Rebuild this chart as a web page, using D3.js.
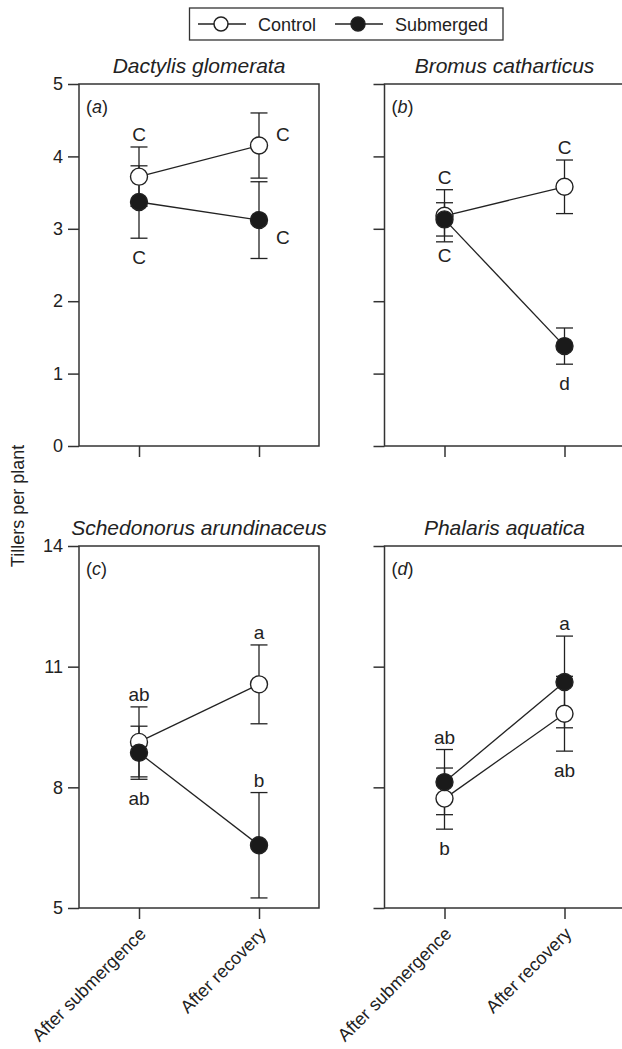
<!DOCTYPE html>
<html>
<head>
<meta charset="utf-8">
<script src="https://cdn.jsdelivr.net/npm/d3@7"></script>
<style>
body { margin: 0; background: #fff; }
text { font-family: "Liberation Sans", Arial, Helvetica, sans-serif; fill: #222; }
</style>
</head>
<body>
<script>
const w = 622;
const h = 1049;

// data
const categories = ["After submergence", "After recovery"];
const species = ["Dactylis glomerata", "Bromus catharticus", "Schedonorus arundinaceus", "Phalaris aquatica"];
const panelTags = ["a", "b", "c", "d"];

const controlMean = [[3.72, 4.15], [3.18, 3.58], [9.13, 10.56], [7.72, 9.83]];
const controlSE = [[0.41, 0.45], [0.36, 0.37], [0.87, 0.98], [0.76, 0.93]];
const submergedMean = [[3.37, 3.12], [3.13, 1.38], [8.86, 6.56], [8.13, 10.62]];
const submergedSE = [[0.50, 0.53], [0.23, 0.25], [0.66, 1.31], [0.81, 1.14]];

const controlLetters = [["C", "C"], ["C", "C"], ["ab", "a"], ["b", "ab"]];
const submergedLetters = [["C", "C"], ["C", "d"], ["ab", "b"], ["ab", "a"]];
const controlSide = [["above", "rightUp"], ["above", "above"], ["above", "above"], ["below", "below"]];
const submergedSide = [["below", "rightDown"], ["below", "below"], ["below", "above"], ["above", "above"]];

const yDomains = [[0, 5], [5, 14]];
const yTicks = [[0, 1, 2, 3, 4, 5], [5, 8, 11, 14]];

// layout
const colX = [79, 384.5];
const rowY = [84, 546];
const pw = 240;
const ph = 362;
const r = 8.5;
const cap = 8.5;

const series = [
    {name: "Control", mean: controlMean, se: controlSE, letters: controlLetters, side: controlSide, fill: "#fff"},
    {name: "Submerged", mean: submergedMean, se: submergedSE, letters: submergedLetters, side: submergedSide, fill: "#1a1a1a"}
];

const svg = d3.select("body")
    .append("svg")
    .attr("width", w)
    .attr("height", h);

// legend
const leg = svg.append("g");
leg.append("rect")
    .attr("x", 189.5).attr("y", 8)
    .attr("width", 313.5).attr("height", 32)
    .attr("fill", "none")
    .attr("stroke", "#333")
    .attr("stroke-width", 1.3);
const legX = [198, 335];
series.forEach(function(s, i) {
    const g = leg.append("g").attr("transform", "translate(" + legX[i] + ",24)");
    g.append("line").attr("x1", 0).attr("x2", 48)
        .attr("stroke", "#222").attr("stroke-width", 1.4);
    g.append("circle").attr("cx", 23).attr("r", 7)
        .attr("fill", s.fill).attr("stroke", "#222").attr("stroke-width", 1.5);
    g.append("text").attr("x", 60).attr("y", 6.5)
        .style("font-size", "18px")
        .text(s.name);
});

// y label
svg.append("text")
    .attr("transform", "translate(24,506) rotate(-90)")
    .attr("text-anchor", "middle")
    .style("font-size", "18px")
    .text("Tillers per plant");

species.forEach(function(name, i) {
    const col = i % 2;
    const row = Math.floor(i / 2);
    const g = svg.append("g")
        .attr("transform", "translate(" + colX[col] + "," + rowY[row] + ")");

    const xScale = d3.scalePoint()
        .domain(categories)
        .range([0, pw])
        .padding(0.5);
    const yScale = d3.scaleLinear()
        .domain(yDomains[row])
        .range([ph, 0]);

    // axes
    const yAxis = d3.axisLeft(yScale)
        .tickValues(yTicks[row])
        .tickSize(11)
        .tickPadding(5)
        .tickFormat(col === 0 ? d3.format("d") : function() { return ""; });
    g.append("g").call(yAxis)
        .call(function(a) { a.select(".domain").remove(); })
        .call(function(a) {
            a.selectAll("line").attr("stroke", "#333").attr("stroke-width", 1.5);
            a.selectAll("text").style("font-size", "18px")
                .style("font-family", "'Liberation Sans', Arial, sans-serif")
                .attr("fill", "#222");
        });

    const xAxis = d3.axisBottom(xScale)
        .tickSize(11)
        .tickFormat(function() { return ""; });
    g.append("g")
        .attr("transform", "translate(0," + ph + ")")
        .call(xAxis)
        .call(function(a) { a.select(".domain").remove(); })
        .call(function(a) { a.selectAll("line").attr("stroke", "#333").attr("stroke-width", 1.5); });

    g.append("rect")
        .attr("width", pw).attr("height", ph)
        .attr("fill", "none")
        .attr("stroke", "#333")
        .attr("stroke-width", 1.5);

    if (row === 1) {
        g.selectAll(".catlab")
            .data(categories)
            .enter()
            .append("text")
            .attr("class", "catlab")
            .attr("text-anchor", "end")
            .attr("transform", function(d) {
                return "translate(" + (xScale(d) + 8) + "," + (ph + 11 + 16) + ") rotate(-45)";
            })
            .style("font-size", "18px")
            .text(function(d) { return d; });
    }

    // title and panel tag
    g.append("text")
        .attr("x", pw / 2).attr("y", -11)
        .attr("text-anchor", "middle")
        .style("font-size", "21px")
        .style("font-style", "italic")
        .text(name);
    const tag = g.append("text")
        .attr("x", 7).attr("y", 29)
        .style("font-size", "18px");
    tag.append("tspan").text("(");
    tag.append("tspan").style("font-style", "italic").text(panelTags[i]);
    tag.append("tspan").text(")");

    const line = d3.line()
        .x(function(d, j) { return xScale(categories[j]); })
        .y(function(d) { return yScale(d); });

    series.forEach(function(s) {
        g.append("path")
            .attr("d", line(s.mean[i]))
            .attr("fill", "none")
            .attr("stroke", "#222")
            .attr("stroke-width", 1.3);
    });

    series.forEach(function(s) {
        categories.forEach(function(c, j) {
            const px = xScale(c);
            const hi = yScale(s.mean[i][j] + s.se[i][j]);
            const lo = yScale(s.mean[i][j] - s.se[i][j]);
            const eb = g.append("g").attr("stroke", "#222").attr("stroke-width", 1.3);
            eb.append("line").attr("x1", px).attr("x2", px).attr("y1", hi).attr("y2", lo);
            eb.append("line").attr("x1", px - cap).attr("x2", px + cap).attr("y1", hi).attr("y2", hi);
            eb.append("line").attr("x1", px - cap).attr("x2", px + cap).attr("y1", lo).attr("y2", lo);
        });
    });

    series.forEach(function(s) {
        g.selectAll(null)
            .data(s.mean[i])
            .enter()
            .append("circle")
            .attr("cx", function(d, j) { return xScale(categories[j]); })
            .attr("cy", function(d) { return yScale(d); })
            .attr("r", r)
            .attr("fill", s.fill)
            .attr("stroke", "#222")
            .attr("stroke-width", 1.4);
    });

    // significance letters
    series.forEach(function(s) {
        categories.forEach(function(c, j) {
            const m = s.mean[i][j];
            const e = s.se[i][j];
            const side = s.side[i][j];
            let tx = xScale(c), ty, anchor = "middle";
            if (side === "above") {
                ty = yScale(m + e) - 6;
            } else if (side === "below") {
                ty = yScale(m - e) + 26;
            } else if (side === "rightUp") {
                tx += 17; anchor = "start"; ty = yScale(m) - 5;
            } else {
                tx += 17; anchor = "start"; ty = yScale(m) + 24;
            }
            g.append("text")
                .attr("x", tx).attr("y", ty)
                .attr("text-anchor", anchor)
                .style("font-size", "19px")
                .text(s.letters[i][j]);
        });
    });
});
</script>
</body>
</html>
